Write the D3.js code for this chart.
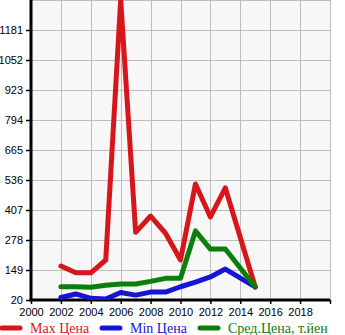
<!DOCTYPE html>
<html>
<head>
<meta charset="utf-8">
<script src="https://cdn.jsdelivr.net/npm/d3@7"></script>
<style>
  html, body { margin: 0; padding: 0; background: #fff; }
  svg { display: block; }
</style>
</head>
<body>
<svg id="chart" width="345" height="335"></svg>
<script>
// Price history by year
const years = [2002, 2003, 2004, 2005, 2006, 2007, 2008, 2009, 2010, 2011, 2012, 2013, 2015];
const maxPrice = [166, 137, 137, 192, 1310, 311, 381, 307, 192, 519, 377, 502, 76];
const minPrice = [31, 46, 27, 24, 52, 41, 54, 54, 77, 97, 119, 153, 76];
const avgPrice = [77, 77, 75, 83, 89, 89, 100, 113, 113, 317, 239, 239, 76];
const yTicks = [20, 149, 278, 407, 536, 665, 794, 923, 1052, 1181];
const xTicks = [2000, 2002, 2004, 2006, 2008, 2010, 2012, 2014, 2016, 2018];
const seriesNames = ["Max Цена", "Min Цена", "Сред.Цена, т.йен"];
const seriesColors = ["#d7161c", "#1515d6", "#0a7f0a"];

const svg = d3.select("#chart");
const mLeft = 31, mRight = 330, mTop = 0, mBottom = 300;

const x = d3.scaleLinear().domain([2000, 2020]).range([mLeft, mRight]);
const y = d3.scaleLinear().domain([20, 1310]).range([mBottom, mTop]);

// Plot background
svg.append("rect")
  .attr("x", mLeft).attr("y", mTop)
  .attr("width", mRight - mLeft).attr("height", mBottom - mTop)
  .attr("fill", "#f7f7f7");

// Grid
const grid = svg.append("g").attr("stroke", "#bdbdbd").attr("stroke-width", 1);
grid.selectAll("line.v").data(xTicks.slice(1).concat([2020])).join("line")
  .attr("x1", d => Math.round(x(d)) + 0.5).attr("x2", d => Math.round(x(d)) + 0.5)
  .attr("y1", mTop).attr("y2", mBottom);
grid.selectAll("line.h").data(yTicks.slice(1).concat([1310])).join("line")
  .attr("x1", mLeft).attr("x2", mRight)
  .attr("y1", d => Math.round(y(d)) + 0.5).attr("y2", d => Math.round(y(d)) + 0.5);

// Axes
const yAxis = d3.axisLeft(y).tickValues(yTicks).tickSize(5).tickPadding(3).tickFormat(d3.format("d"));
const xAxis = d3.axisBottom(x).tickValues(xTicks.concat([2020])).tickSize(4).tickPadding(4)
  .tickFormat(d => d === 2020 ? "" : d);

const gy = svg.append("g").attr("transform", `translate(${mLeft},0)`).call(yAxis);
const gx = svg.append("g").attr("transform", `translate(0,${mBottom})`).call(xAxis);

[gx, gy].forEach(g => {
  g.select(".domain").attr("stroke", "#000").attr("stroke-width", 3);
  g.selectAll(".tick line").attr("stroke", "#000").attr("stroke-width", 1.5);
  g.selectAll(".tick text")
    .attr("fill", "#000")
    .style("font-family", "'Liberation Sans', Arial, sans-serif")
    .style("font-size", "11px");
});
gy.select(".domain").attr("d", `M0,${mTop}V${mBottom + 1.5}`);
gx.select(".domain").attr("d", `M${mLeft - 1.5},0H${mRight}`);
gy.selectAll(".tick text").attr("dy", "0.32em");

// Lines
const line = d3.line().x((d, i) => x(years[i])).y(d => y(d));
svg.append("clipPath").attr("id", "plotclip")
  .append("rect").attr("x", mLeft).attr("y", mTop).attr("width", mRight - mLeft).attr("height", mBottom - mTop);

const lines = svg.append("g").attr("clip-path", "url(#plotclip)");
[maxPrice, minPrice, avgPrice].forEach((s, k) => {
  lines.append("path")
    .datum(s)
    .attr("d", line)
    .attr("fill", "none")
    .attr("stroke", seriesColors[k])
    .attr("stroke-width", 5)
    .attr("stroke-linejoin", "round")
    .attr("stroke-linecap", "round");
});

// Legend
const legendX = [0, 100, 198];
const legend = svg.append("g");
seriesNames.forEach((name, k) => {
  legend.append("line")
    .attr("x1", legendX[k] + 2).attr("x2", legendX[k] + 20)
    .attr("y1", 328).attr("y2", 328)
    .attr("stroke", seriesColors[k]).attr("stroke-width", 5)
    .attr("stroke-linecap", "round");
  legend.append("text")
    .attr("x", legendX[k] + 30).attr("y", 333)
    .attr("fill", seriesColors[k])
    .style("font-family", "'Liberation Serif', 'DejaVu Serif', serif")
    .style("font-size", "14px")
    .text(name);
});
</script>
</body>
</html>
